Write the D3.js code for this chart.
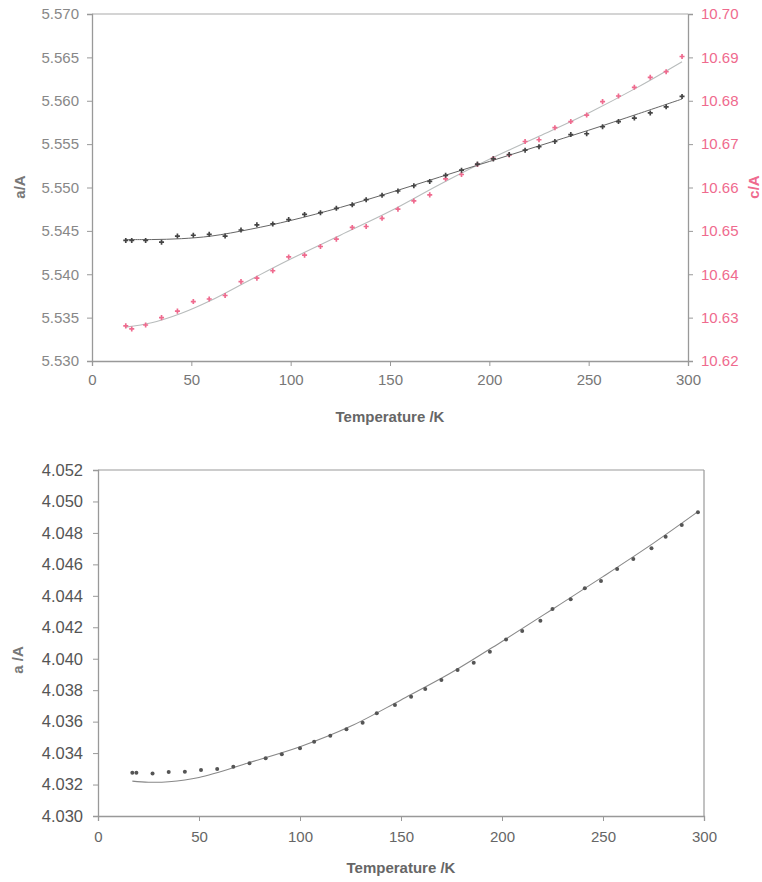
<!DOCTYPE html>
<html><head><meta charset="utf-8">
<script src="https://cdn.jsdelivr.net/npm/d3@7"></script>
<style>
html,body{margin:0;padding:0;background:#fff;}
svg{display:block;font-family:"Liberation Sans",Arial,sans-serif;}
</style></head>
<body><svg id="c" width="762" height="882"></svg>
<script>
// ---- Top chart data ----
const tempTop = [17,20,27,35,43,51,59,67,75,83,91,99,107,115,123,131,138,146,154,162,170,178,186,194,202,210,218,225,233,241,249,257,265,273,281,289,297];
const aTop = [5.5439,5.5439,5.5439,5.5437,5.5444,5.5445,5.5446,5.5444,5.5451,5.5457,5.5458,5.5463,5.5469,5.5471,5.5476,5.5480,5.5486,5.5491,5.5496,5.5502,5.5507,5.5514,5.5520,5.5527,5.5533,5.5538,5.5543,5.5547,5.5553,5.5561,5.5562,5.5570,5.5576,5.5580,5.5586,5.5593,5.5605];
const cTop = [10.6281,10.6274,10.6283,10.6300,10.6315,10.6337,10.6343,10.6351,10.6383,10.6391,10.6408,10.6440,10.6444,10.6464,10.6481,10.6508,10.6510,10.6529,10.6550,10.6569,10.6583,10.6620,10.6630,10.6653,10.6667,10.6675,10.6706,10.6710,10.6738,10.6752,10.6767,10.6798,10.6811,10.6831,10.6854,10.6867,10.6902];
const fitTempTop = [17,30,45,60,80,100,125,150,175,200,225,250,275,297];
const fitATop = [5.5440,5.5440,5.5441,5.5444,5.5452,5.5462,5.5477,5.5494,5.5512,5.5530,5.5548,5.5566,5.5585,5.5602];
const fitCTop = [10.6278,10.6288,10.6310,10.6340,10.6388,10.6435,10.6490,10.6545,10.6607,10.6665,10.6718,10.6772,10.6832,10.6890];
const xTicks = [0,50,100,150,200,250,300];
const aTicksTop = [5.530,5.535,5.540,5.545,5.550,5.555,5.560,5.565,5.570];
const cTicksTop = [10.62,10.63,10.64,10.65,10.66,10.67,10.68,10.69,10.70];

// ---- Bottom chart data ----
const tempBot = [17,19,27,35,43,51,59,67,75,83,91,100,107,115,123,131,138,147,155,162,170,178,186,194,202,210,219,225,234,241,249,257,265,274,281,289,297];
const aBot = [4.03275,4.03275,4.03271,4.03280,4.03282,4.03292,4.03299,4.03313,4.03335,4.03367,4.03392,4.03430,4.03472,4.03510,4.03551,4.03593,4.03653,4.03706,4.03759,4.03807,4.03865,4.03928,4.03975,4.04045,4.04123,4.04176,4.04242,4.04316,4.04378,4.04448,4.04494,4.04570,4.04634,4.04702,4.04776,4.04850,4.04931];
const fitTempBot = [17,25,35,50,75,100,125,150,175,200,225,250,275,297];
const fitABot = [4.03222,4.03215,4.03218,4.03245,4.03340,4.03440,4.03570,4.03738,4.03912,4.04110,4.04315,4.04522,4.04735,4.04935];
const aTicksBot = [4.030,4.032,4.034,4.036,4.038,4.040,4.042,4.044,4.046,4.048,4.050,4.052];

const svg = d3.select("#c");
svg.append("rect").attr("width",762).attr("height",882).attr("fill","#fff");
const pink = "#ef6a8e";

// ===== Top chart =====
{
  const L=92,R=688,T=14,B=361;
  const x = d3.scaleLinear().domain([0,300]).range([L,R]);
  const yA = d3.scaleLinear().domain([5.530,5.570]).range([B,T]);
  const yC = d3.scaleLinear().domain([10.62,10.70]).range([B,T]);
  const g = svg.append("g");
  g.append("line").attr("x1",L).attr("x2",R).attr("y1",T).attr("y2",T).attr("stroke","#aaa").attr("stroke-width",1.2);
  const ax = g.append("g").attr("transform",`translate(0,${B})`)
    .call(d3.axisBottom(x).tickValues(xTicks).tickSize(5).tickPadding(8).tickFormat(d3.format("d")));
  const ay = g.append("g").attr("transform",`translate(${L},0)`)
    .call(d3.axisLeft(yA).tickValues(aTicksTop).tickSize(5).tickPadding(8).tickFormat(d3.format(".3f")));
  const ac = g.append("g").attr("transform",`translate(${R},0)`)
    .call(d3.axisRight(yC).tickValues(cTicksTop).tickSize(5).tickPadding(8).tickFormat(d3.format(".2f")));
  [ax,ay,ac].forEach(a=>{
    a.select(".domain").attr("stroke","#999").attr("stroke-width",1.3);
    a.selectAll(".tick line").attr("stroke","#999");
    a.selectAll("text").attr("font-size",15).attr("font-family","Liberation Sans, Arial, sans-serif");
  });
  ax.selectAll("text").attr("fill","#777");
  ay.selectAll("text").attr("fill","#888");
  ac.selectAll("text").attr("fill",pink);

  const lineA = d3.line().x((d,i)=>x(fitTempTop[i])).y(d=>yA(d)).curve(d3.curveCatmullRom);
  const lineC = d3.line().x((d,i)=>x(fitTempTop[i])).y(d=>yC(d)).curve(d3.curveCatmullRom);
  g.append("path").attr("d",lineC(fitCTop)).attr("fill","none").attr("stroke","#b8bcbc").attr("stroke-width",1.1);
  g.append("path").attr("d",lineA(fitATop)).attr("fill","none").attr("stroke","#666").attr("stroke-width",1);

  const sym = d3.symbol().type(d3.symbolCross).size(14);
  g.selectAll(".pc").data(cTop).enter().append("path")
    .attr("d",sym).attr("transform",(d,i)=>`translate(${x(tempTop[i])},${yC(d)})`).attr("fill",pink);
  g.selectAll(".pa").data(aTop).enter().append("path")
    .attr("d",sym).attr("transform",(d,i)=>`translate(${x(tempTop[i])},${yA(d)})`).attr("fill","#444");

  g.append("text").attr("x",(L+R)/2).attr("y",422).attr("text-anchor","middle")
    .attr("font-size",15).attr("font-weight","bold").attr("fill","#666").text("Temperature /K");
  g.append("text").attr("transform",`translate(25,187) rotate(-90)`).attr("text-anchor","middle")
    .attr("font-size",15).attr("font-weight","bold").attr("fill","#777").text("a/A");
  g.append("text").attr("transform",`translate(759,187) rotate(-90)`).attr("text-anchor","middle")
    .attr("font-size",15).attr("font-weight","bold").attr("fill",pink).text("c/A");
}

// ===== Bottom chart =====
{
  const L=98,R=704,T=470,B=816;
  const x = d3.scaleLinear().domain([0,300]).range([L,R]);
  const y = d3.scaleLinear().domain([4.030,4.052]).range([B,T]);
  const g = svg.append("g");
  g.append("line").attr("x1",L).attr("x2",R).attr("y1",T).attr("y2",T).attr("stroke","#999").attr("stroke-width",1.2);
  g.append("line").attr("x1",R).attr("x2",R).attr("y1",T).attr("y2",B).attr("stroke","#999").attr("stroke-width",1.2);
  const ax = g.append("g").attr("transform",`translate(0,${B})`)
    .call(d3.axisBottom(x).tickValues(xTicks).tickSize(5).tickPadding(10).tickFormat(d3.format("d")));
  const ay = g.append("g").attr("transform",`translate(${L},0)`)
    .call(d3.axisLeft(y).tickValues(aTicksBot).tickSize(5).tickPadding(10).tickFormat(d3.format(".3f")));
  [ax,ay].forEach(a=>{
    a.select(".domain").attr("stroke","#999").attr("stroke-width",1.3);
    a.selectAll(".tick line").attr("stroke","#999");
    a.selectAll("text").attr("font-family","Liberation Sans, Arial, sans-serif");
  });
  ax.selectAll("text").attr("font-size",15).attr("fill","#666");
  ay.selectAll("text").attr("font-size",16.5).attr("fill","#555");

  const line = d3.line().x((d,i)=>x(fitTempBot[i])).y(d=>y(d)).curve(d3.curveCatmullRom);
  g.append("path").attr("d",line(fitABot)).attr("fill","none").attr("stroke","#888").attr("stroke-width",1.1);
  g.selectAll(".pb").data(aBot).enter().append("circle")
    .attr("cx",(d,i)=>x(tempBot[i])).attr("cy",d=>y(d)).attr("r",2).attr("fill","#555");

  g.append("text").attr("x",(L+R)/2).attr("y",873).attr("text-anchor","middle")
    .attr("font-size",15).attr("font-weight","bold").attr("fill","#666").text("Temperature /K");
  g.append("text").attr("transform",`translate(23,660) rotate(-90)`).attr("text-anchor","middle")
    .attr("font-size",15).attr("font-weight","bold").attr("fill","#777").text("a /A");
}
</script></body></html>
